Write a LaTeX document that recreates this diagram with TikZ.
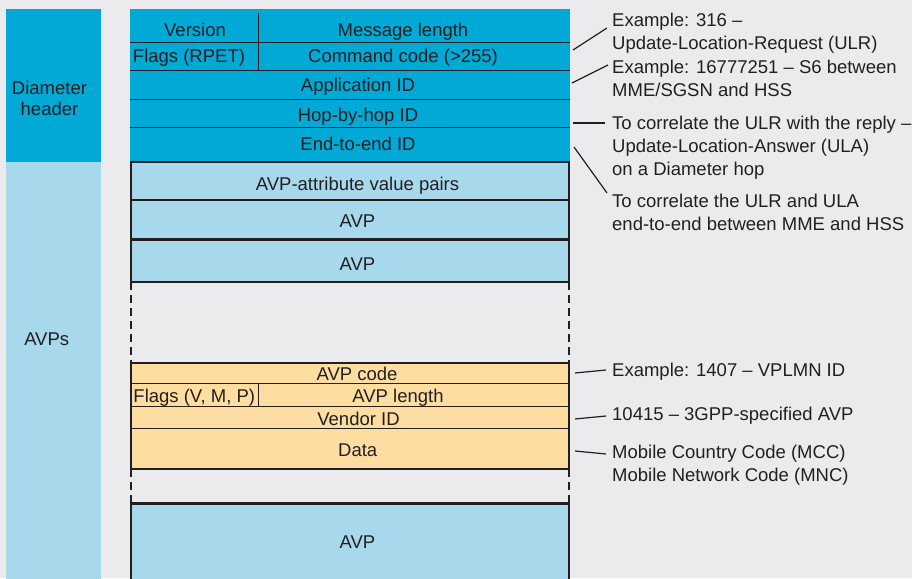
\documentclass[tikz,border=0pt]{standalone}
\usepackage{fontspec}
\setmainfont{Liberation Sans}
\definecolor{bg}{RGB}{235,235,238}
\definecolor{hdrblue}{RGB}{0,169,214}
\definecolor{avpblue}{RGB}{168,216,236}
\definecolor{avporange}{RGB}{253,222,160}
\definecolor{ink}{RGB}{35,31,32}
\begin{document}
\begin{tikzpicture}[x=1pt, y=-1pt,
  txt/.style={inner sep=0pt, text=ink, font=\fontsize{18.5}{22.8}\selectfont, anchor=base},
  note/.style={txt, anchor=base west, align=left},
  sep/.style={ink, line width=1pt},
  frame/.style={ink, line width=2.4pt},
  gap/.style={frame, dash pattern=on 8pt off 5pt},
  leader/.style={ink, line width=1.2pt}]
  \useasboundingbox (0,0) rectangle (912,578);
  \fill[bg] (0,0) rectangle (912,578);
  \clip (0,0) rectangle (912,578);
  % left column
  \fill[hdrblue] (6,9) rectangle (101,161.5);
  \fill[avpblue] (6,161.5) rectangle (101,590);
  \node[txt, align=center] (diam) at (49.5,115.7) {Diameter\\[-1.4pt]header};
  \node[txt] (avps) at (46.7,345.7) {AVPs};
  % Diameter header
  \fill[hdrblue] (130,9) rectangle (570,162);
  \foreach \y in {42.3,70.7,99,127.7}
    \draw[sep] (130,\y) -- (570,\y);
  \draw[sep] (258.7,12.7) -- (258.7,70.7);
  \node[txt] (ver) at (195,36.5) {Version};
  \node[txt] (msglen) at (403,36.5) {Message length};
  \node[txt] (flags) at (189,63) {Flags (RPET)};
  \node[txt] (cmd) at (403,63) {Command code (>255)};
  \node[txt] (appid) at (358,92) {Application ID};
  \node[txt] (hop) at (358,121) {Hop-by-hop ID};
  \node[txt] (e2e) at (358,150) {End-to-end ID};
  % AVPs
  \filldraw[frame, fill=avpblue] (131,162) rectangle (569,200);
  \filldraw[frame, fill=avpblue] (131,200) rectangle (569,239.3);
  \filldraw[frame, fill=avpblue] (131,239.3) rectangle (569,282);
  \node[txt] (avpattr) at (357.5,190) {AVP-attribute value pairs};
  \node[txt] (avp1) at (357.5,227.5) {AVP};
  \node[txt] (avp2) at (357.5,270) {AVP};
  \draw[gap] (131,282) -- (131,362.7);
  \draw[gap] (569,282) -- (569,362.7);
  % one AVP in detail
  \fill[avporange] (131,362.7) rectangle (569,469);
  \foreach \y in {383.7,406,428.7}
    \draw[sep] (131,\y) -- (569,\y);
  \draw[sep] (258.3,383.7) -- (258.3,406);
  \draw[frame] (131,362.7) rectangle (569,469);
  \node[txt] (avpcode) at (357,380) {AVP code};
  \node[txt] (vmp) at (194.3,402) {Flags (V, M, P)};
  \node[txt] (avplen) at (398,402) {AVP length};
  \node[txt] (vendor) at (358.5,425) {Vendor ID};
  \node[txt] (data) at (357.7,456.5) {Data};
  \draw[gap] (131,469) -- (131,503.3);
  \draw[gap] (569,469) -- (569,503.3);
  \filldraw[frame, fill=avpblue] (131,503.3) rectangle (569,600);
  \node[txt] (avp3) at (357.5,548) {AVP};
  % notes
  \node[note] (n1) at (612,49.5) {Example: 316 --\\Update-Location-Request (ULR)};
  \node[note] (n2) at (612,96.7) {Example: 16777251 -- S6 between\\MME/SGSN and HSS};
  \node[note] (n3) at (612,175) {To correlate the ULR with the reply --\\Update-Location-Answer (ULA)\\on a Diameter hop};
  \node[note] (n4) at (612,230) {To correlate the ULR and ULA\\end-to-end between MME and HSS};
  \node[note] (n5) at (612,376.7) {Example: 1407 -- VPLMN ID};
  \node[note] (n6) at (612,420.7) {10415 -- 3GPP-specified AVP};
  \node[note] (n7) at (612,481) {Mobile Country Code (MCC)\\Mobile Network Code (MNC)};
  \coordinate (c1) at (573,50);
  \coordinate (c2) at (572,83);
  \coordinate (c3) at (573,123);
  \coordinate (c4) at (574,147);
  \coordinate (c5) at (575,373);
  \coordinate (c6) at (575,419);
  \coordinate (c7) at (575,451);
  \draw[leader] (c1) -- ([shift={(-5,-21.5)}]n1.base west);
  \draw[leader] (c2) -- ([shift={(-4,-31.7)}]n2.base west);
  \draw[leader] (c3) -- ([shift={(-7,-52)}]n3.base west);
  \draw[leader] (c4) -- ([shift={(-5,-37)}]n4.base west);
  \draw[leader] (c5) -- ([shift={(-6,-6.7)}]n5.base west);
  \draw[leader] (c6) -- ([shift={(-6,-4.7)}]n6.base west);
  \draw[leader] (c7) -- ([shift={(-6,-27)}]n7.base west);
\end{tikzpicture}
\end{document}
